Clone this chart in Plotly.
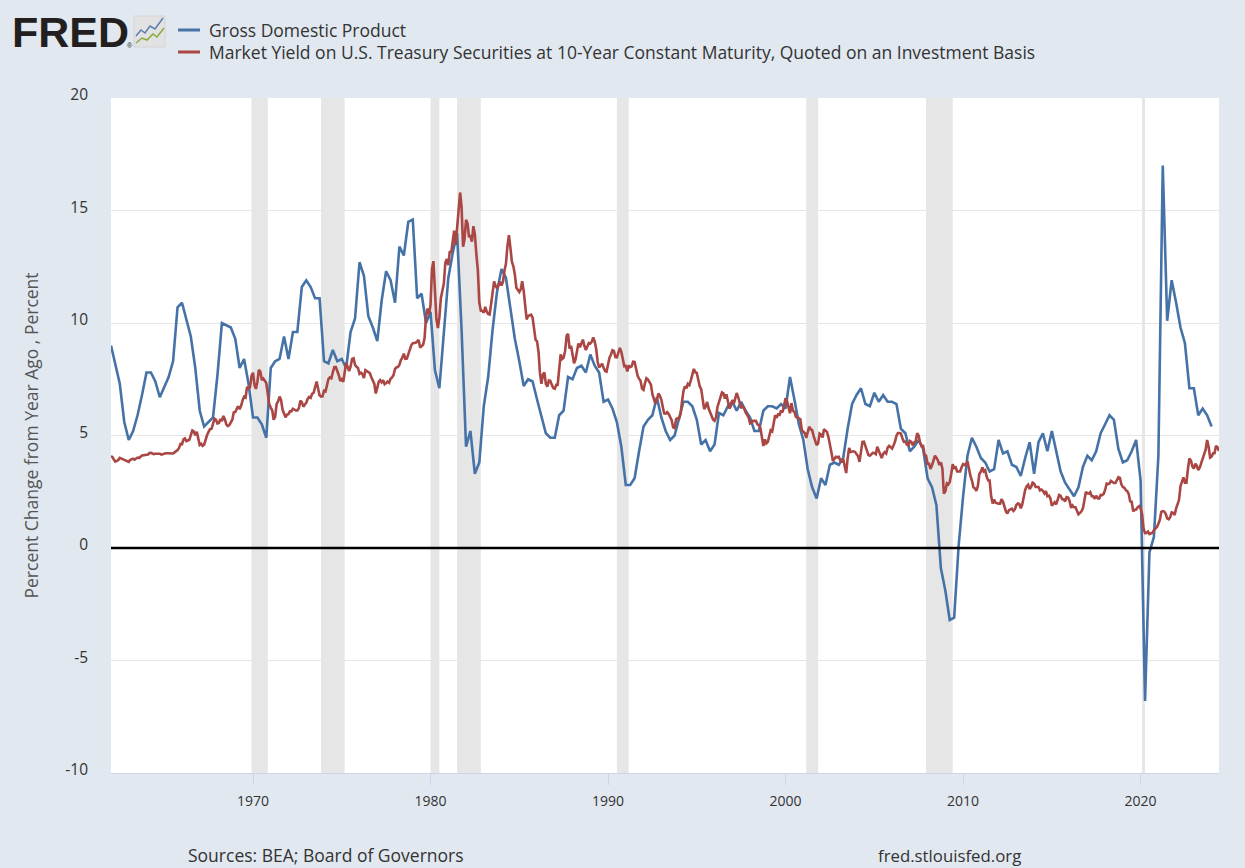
import plotly.graph_objects as go
import pandas as pd

# ---------------- DATA ----------------
gdp_start = "1962-01-01"
# Gross Domestic Product, percent change from year ago (quarterly)
gdp_yoy = [
    9.0, 8.1, 7.3, 5.6,      # 1962
    4.8, 5.2, 5.9, 6.8,      # 1963
    7.8, 7.8, 7.4, 6.7,      # 1964
    7.2, 7.6, 8.3, 10.7,     # 1965
    10.9, 10.2, 9.4, 8.0,    # 1966
    6.1, 5.4, 5.6, 5.8,      # 1967
    7.7, 10.0, 9.9, 9.8,     # 1968
    9.3, 8.0, 8.4, 7.3,      # 1969
    5.8, 5.8, 5.5, 4.9,      # 1970
    8.0, 8.3, 8.4, 9.4,      # 1971
    8.4, 9.6, 9.6, 11.6,     # 1972
    11.9, 11.6, 11.1, 11.1,  # 1973
    8.3, 8.2, 8.8, 8.3,      # 1974
    8.4, 8.0, 9.6, 10.2,     # 1975
    12.7, 12.1, 10.3, 9.8,   # 1976
    9.2, 11.0, 12.3, 11.9,   # 1977
    10.9, 13.4, 13.0, 14.5,  # 1978
    14.6, 11.1, 11.3, 10.0,  # 1979
    10.5, 7.9, 7.1, 9.6,     # 1980
    12.0, 13.1, 14.0, 9.7,   # 1981
    4.5, 5.2, 3.3, 3.8,      # 1982
    6.3, 7.6, 9.7, 11.4,     # 1983
    12.4, 12.0, 10.7, 9.3,   # 1984
    8.3, 7.2, 7.5, 7.4,      # 1985
    6.6, 5.9, 5.1, 4.9,      # 1986
    4.9, 5.9, 6.1, 7.6,      # 1987
    7.5, 8.0, 8.1, 7.8,      # 1988
    8.6, 8.1, 7.8, 6.5,      # 1989
    6.6, 6.2, 5.6, 4.5,      # 1990
    2.8, 2.8, 3.1, 4.3,      # 1991
    5.4, 5.7, 5.9, 6.7,      # 1992
    5.8, 5.2, 4.8, 5.0,      # 1993
    5.8, 6.5, 6.5, 6.3,      # 1994
    5.7, 4.6, 4.8, 4.3,      # 1995
    4.6, 6.0, 5.9, 6.3,      # 1996
    6.5, 6.1, 6.5, 6.1,      # 1997
    5.8, 5.2, 5.2, 6.1,      # 1998
    6.3, 6.3, 6.2, 6.4,      # 1999
    6.2, 7.6, 6.6, 5.5,      # 2000
    4.8, 3.5, 2.7, 2.2,      # 2001
    3.1, 2.8, 3.7, 3.8,      # 2002
    3.7, 4.0, 5.3, 6.4,      # 2003
    6.8, 7.1, 6.4, 6.3,      # 2004
    6.9, 6.5, 6.8, 6.5,      # 2005
    6.5, 6.4, 5.3, 5.1,      # 2006
    4.3, 4.5, 4.8, 4.4,      # 2007
    3.1, 2.7, 1.9, -0.9,     # 2008
    -1.9, -3.2, -3.1, 0.1,   # 2009
    2.3, 4.1, 4.9, 4.5,      # 2010
    4.0, 3.8, 3.4, 3.5,      # 2011
    4.8, 4.2, 4.3, 3.7,      # 2012
    3.6, 3.2, 4.0, 4.7,      # 2013
    3.3, 4.7, 5.1, 4.3,      # 2014
    5.2, 4.3, 3.4, 2.9,      # 2015
    2.6, 2.3, 2.7, 3.6,      # 2016
    4.1, 3.9, 4.3, 5.1,      # 2017
    5.5, 5.9, 5.7, 4.4,      # 2018
    3.8, 3.9, 4.3, 4.8,      # 2019
    3.0, -6.8, -0.2, 0.5,    # 2020
    4.1, 17.0, 10.1, 11.9,   # 2021
    10.9, 9.8, 9.1, 7.1,     # 2022
    7.1, 5.9, 6.2, 5.9,      # 2023
    5.4,                     # 2024
]

yield_start = "1962-01-01"
# Market Yield on U.S. Treasury Securities at 10-Year Constant Maturity (monthly, percent)
treasury_10y = [
    4.08, 4.04, 3.93, 3.84, 3.87, 3.91, 4.01, 3.98, 3.98, 3.93, 3.92, 3.86,   # 1962
    3.83, 3.92, 3.93, 3.97, 3.93, 3.99, 4.02, 4.00, 4.08, 4.11, 4.12, 4.13,   # 1963
    4.17, 4.15, 4.22, 4.23, 4.20, 4.17, 4.19, 4.19, 4.20, 4.19, 4.15, 4.18,   # 1964
    4.19, 4.21, 4.21, 4.20, 4.21, 4.21, 4.20, 4.25, 4.29, 4.35, 4.45, 4.62,   # 1965
    4.61, 4.83, 4.87, 4.75, 4.78, 4.81, 5.02, 5.22, 5.18, 5.01, 5.16, 4.84,   # 1966
    4.58, 4.63, 4.54, 4.59, 4.85, 5.02, 5.16, 5.28, 5.30, 5.48, 5.75, 5.70,   # 1967
    5.53, 5.56, 5.74, 5.64, 5.87, 5.72, 5.50, 5.42, 5.46, 5.58, 5.70, 6.03,   # 1968
    6.04, 6.19, 6.30, 6.17, 6.32, 6.57, 6.72, 6.69, 7.16, 7.10, 7.14, 7.65,   # 1969
    7.79, 7.24, 7.07, 7.39, 7.91, 7.84, 7.46, 7.53, 7.39, 7.33, 6.84, 6.39,   # 1970
    6.24, 6.11, 5.70, 5.83, 6.39, 6.52, 6.73, 6.58, 6.14, 5.93, 5.81, 5.93,   # 1971
    5.95, 6.08, 6.07, 6.19, 6.13, 6.11, 6.11, 6.21, 6.55, 6.48, 6.28, 6.36,   # 1972
    6.46, 6.64, 6.71, 6.67, 6.85, 6.90, 7.13, 7.40, 7.09, 6.79, 6.73, 6.74,   # 1973
    6.99, 6.96, 7.21, 7.51, 7.58, 7.54, 7.81, 8.04, 8.04, 7.90, 7.68, 7.43,   # 1974
    7.50, 7.39, 7.73, 8.23, 8.06, 7.86, 8.06, 8.40, 8.43, 8.14, 8.05, 8.00,   # 1975
    7.74, 7.79, 7.73, 7.56, 7.90, 7.86, 7.83, 7.77, 7.59, 7.41, 7.29, 6.87,   # 1976
    7.21, 7.39, 7.46, 7.37, 7.46, 7.28, 7.33, 7.40, 7.34, 7.52, 7.58, 7.69,   # 1977
    7.96, 8.03, 8.04, 8.15, 8.35, 8.46, 8.64, 8.41, 8.42, 8.64, 8.81, 9.01,   # 1978
    9.10, 9.10, 9.12, 9.18, 9.25, 8.91, 8.95, 9.03, 9.33, 10.30, 10.65, 10.39,  # 1979
    10.80, 12.41, 12.75, 11.47, 10.18, 9.78, 10.25, 11.10, 11.51, 11.75, 12.68, 12.84,  # 1980
    12.57, 13.19, 13.12, 13.68, 14.10, 13.47, 14.28, 14.94, 15.80, 15.15, 13.39, 13.72,  # 1981
    14.59, 14.43, 13.86, 13.87, 13.62, 14.30, 13.95, 13.06, 12.34, 10.91, 10.55, 10.54,  # 1982
    10.46, 10.72, 10.51, 10.40, 10.38, 10.85, 11.38, 11.85, 11.65, 11.54, 11.69, 11.83,  # 1983
    11.67, 11.84, 12.32, 12.63, 13.41, 13.90, 13.36, 12.72, 12.52, 12.16, 11.57, 11.50,  # 1984
    11.38, 11.51, 11.86, 11.43, 10.85, 10.16, 10.31, 10.33, 10.37, 10.24, 9.78, 9.26,   # 1985
    9.19, 8.70, 7.78, 7.30, 7.71, 7.80, 7.30, 7.17, 7.45, 7.43, 7.25, 7.11,   # 1986
    7.08, 7.25, 7.25, 8.02, 8.61, 8.40, 8.45, 8.76, 9.42, 9.52, 8.86, 8.99,   # 1987
    8.67, 8.21, 8.37, 8.72, 9.09, 8.92, 9.06, 9.26, 8.98, 8.80, 8.96, 9.11,   # 1988
    9.09, 9.17, 9.36, 9.18, 8.86, 8.28, 8.02, 8.11, 8.19, 8.01, 7.87, 7.84,   # 1989
    8.21, 8.47, 8.59, 8.79, 8.76, 8.48, 8.47, 8.75, 8.89, 8.72, 8.39, 8.08,   # 1990
    8.09, 7.85, 8.11, 8.04, 8.07, 8.28, 8.27, 7.90, 7.65, 7.53, 7.42, 7.09,   # 1991
    7.03, 7.34, 7.54, 7.48, 7.39, 7.26, 6.84, 6.59, 6.42, 6.59, 6.87, 6.77,   # 1992
    6.60, 6.26, 5.98, 5.97, 6.04, 5.96, 5.81, 5.68, 5.36, 5.33, 5.72, 5.77,   # 1993
    5.75, 5.97, 6.48, 6.97, 7.18, 7.10, 7.30, 7.24, 7.46, 7.74, 7.96, 7.81,   # 1994
    7.78, 7.47, 7.20, 7.06, 6.63, 6.17, 6.28, 6.49, 6.20, 6.04, 5.93, 5.71,   # 1995
    5.65, 5.81, 6.27, 6.51, 6.74, 6.91, 6.87, 6.64, 6.83, 6.53, 6.20, 6.30,   # 1996
    6.58, 6.42, 6.69, 6.89, 6.71, 6.49, 6.22, 6.30, 6.21, 6.03, 5.88, 5.81,   # 1997
    5.54, 5.57, 5.65, 5.64, 5.65, 5.50, 5.46, 5.34, 4.81, 4.53, 4.83, 4.65,   # 1998
    4.72, 5.00, 5.23, 5.18, 5.54, 5.90, 5.79, 5.94, 5.92, 6.11, 6.03, 6.28,   # 1999
    6.66, 6.52, 6.26, 5.99, 6.44, 6.10, 6.05, 5.83, 5.80, 5.74, 5.72, 5.24,   # 2000
    5.16, 5.10, 4.89, 5.14, 5.39, 5.28, 5.24, 4.97, 4.73, 4.57, 4.65, 5.09,   # 2001
    5.04, 4.91, 5.28, 5.21, 5.16, 4.93, 4.65, 4.26, 3.87, 3.94, 4.05, 4.03,   # 2002
    4.05, 3.90, 3.81, 3.96, 3.57, 3.33, 3.98, 4.45, 4.27, 4.29, 4.30, 4.27,   # 2003
    4.15, 4.08, 3.83, 4.35, 4.72, 4.73, 4.50, 4.28, 4.13, 4.10, 4.19, 4.23,   # 2004
    4.22, 4.17, 4.50, 4.34, 4.14, 4.00, 4.18, 4.26, 4.20, 4.46, 4.54, 4.47,   # 2005
    4.42, 4.57, 4.72, 4.99, 5.11, 5.11, 5.09, 4.88, 4.72, 4.73, 4.60, 4.56,   # 2006
    4.76, 4.72, 4.56, 4.69, 4.75, 5.10, 5.00, 4.67, 4.52, 4.53, 4.15, 4.10,   # 2007
    3.74, 3.74, 3.51, 3.68, 3.88, 4.10, 4.01, 3.89, 3.69, 3.81, 3.53, 2.42,   # 2008
    2.52, 2.87, 2.82, 2.93, 3.29, 3.72, 3.56, 3.59, 3.40, 3.39, 3.40, 3.59,   # 2009
    3.73, 3.69, 3.73, 3.85, 3.42, 3.20, 3.01, 2.70, 2.65, 2.54, 2.76, 3.29,   # 2010
    3.39, 3.58, 3.41, 3.46, 3.17, 3.00, 3.00, 2.30, 1.98, 2.15, 2.01, 1.98,   # 2011
    1.97, 1.97, 2.17, 2.05, 1.80, 1.62, 1.53, 1.68, 1.72, 1.75, 1.65, 1.72,   # 2012
    1.91, 1.98, 1.96, 1.76, 1.93, 2.30, 2.58, 2.74, 2.81, 2.62, 2.72, 2.90,   # 2013
    2.86, 2.71, 2.72, 2.71, 2.56, 2.60, 2.54, 2.42, 2.53, 2.30, 2.33, 2.21,   # 2014
    1.88, 1.98, 2.04, 1.94, 2.20, 2.36, 2.32, 2.17, 2.17, 2.07, 2.26, 2.24,   # 2015
    2.09, 1.78, 1.89, 1.81, 1.81, 1.64, 1.50, 1.56, 1.63, 1.76, 2.14, 2.49,   # 2016
    2.43, 2.42, 2.48, 2.30, 2.30, 2.19, 2.32, 2.21, 2.20, 2.36, 2.35, 2.40,   # 2017
    2.58, 2.86, 2.84, 2.87, 2.98, 2.91, 2.89, 2.89, 3.00, 3.15, 3.12, 2.83,   # 2018
    2.71, 2.68, 2.57, 2.53, 2.40, 2.07, 2.06, 1.63, 1.70, 1.71, 1.81, 1.86,   # 2019
    1.76, 1.50, 0.87, 0.66, 0.67, 0.73, 0.62, 0.65, 0.68, 0.79, 0.87, 0.93,   # 2020
    1.08, 1.26, 1.61, 1.64, 1.62, 1.52, 1.32, 1.28, 1.37, 1.58, 1.56, 1.47,   # 2021
    1.76, 1.93, 2.13, 2.75, 2.90, 3.14, 2.90, 2.90, 3.52, 3.98, 3.89, 3.62,   # 2022
    3.53, 3.75, 3.66, 3.46, 3.57, 3.75, 3.90, 4.17, 4.38, 4.80, 4.50, 4.02,   # 2023
    4.06, 4.21, 4.21, 4.54, 4.48, 4.31,                                       # 2024
]

recession_start = ["1969-12-01", "1973-11-01", "1980-01-01", "1981-07-01",
                   "1990-07-01", "2001-03-01", "2007-12-01", "2020-02-01"]
recession_end = ["1970-11-01", "1975-03-01", "1980-07-01", "1982-11-01",
                 "1991-03-01", "2001-11-01", "2009-06-01", "2020-04-01"]

y_tick_vals = [-10, -5, 0, 5, 10, 15, 20]
y_tick_text = ["-10", "-5", "0", "5", "10", "15", "20"]

series_names = ["Gross Domestic Product",
                "Market Yield on U.S. Treasury Securities at 10-Year Constant Maturity, Quoted on an Investment Basis"]

# ---------------- FIGURE ----------------
W, H = 1245, 868
L, R, T, B = 111, 26, 98, 95
PW, PH = W - L - R, H - T - B

def px(x):
    return (x - L) / PW

def py(y):
    return (H - B - y) / PH

BLUE = "#4572a7"
RED = "#aa4643"
BG = "#e1e8f0"
FONT = "Open Sans"

gdp_dates = pd.date_range(gdp_start, periods=len(gdp_yoy), freq="QS")
yld_dates = pd.date_range(yield_start, periods=len(treasury_10y), freq="MS")

fig = go.Figure()
fig.add_trace(go.Scatter(x=gdp_dates, y=gdp_yoy, mode="lines", name=series_names[0],
                         line=dict(color=BLUE, width=2.6), hoverinfo="skip"))
fig.add_trace(go.Scatter(x=yld_dates, y=treasury_10y, mode="lines", name=series_names[1],
                         line=dict(color=RED, width=2.6), hoverinfo="skip"))

shapes = []
for s, e in zip(recession_start, recession_end):
    shapes.append(dict(type="rect", xref="x", yref="paper", x0=s, x1=e, y0=0, y1=1,
                       fillcolor="#e6e6e6", line=dict(width=0), layer="between"))
# zero line
shapes.append(dict(type="line", xref="paper", yref="y", x0=0, x1=1, y0=0, y1=0,
                   line=dict(color="#000000", width=2.5), layer="above"))
# legend line samples
shapes.append(dict(type="line", xref="paper", yref="paper", x0=px(178), x1=px(200),
                   y0=py(30), y1=py(30), line=dict(color=BLUE, width=3)))
shapes.append(dict(type="line", xref="paper", yref="paper", x0=px(178), x1=px(200),
                   y0=py(52), y1=py(52), line=dict(color=RED, width=3)))
# FRED icon
shapes.append(dict(type="rect", xref="paper", yref="paper", x0=px(134), x1=px(165),
                   y0=py(47), y1=py(16), fillcolor="#e2e2e2", line=dict(color="#d4d4d4", width=1)))

def path(points):
    return "M " + " L ".join(f"{px(a):.5f},{py(b):.5f}" for a, b in points)

shapes.append(dict(type="path", xref="paper", yref="paper",
                   path=path([(136, 36), (141, 30), (145, 33), (150, 26), (155, 29), (163, 18)]),
                   line=dict(color="#5b7fb0", width=1.5)))
shapes.append(dict(type="path", xref="paper", yref="paper",
                   path=path([(136, 43), (142, 38), (147, 40), (153, 34), (157, 37), (164, 28)]),
                   line=dict(color="#8aaa3c", width=1.5)))

annotations = [
    dict(text="<b>FRED</b>", x=px(10), y=py(32), xref="paper", yref="paper",
         xanchor="left", yanchor="middle", showarrow=False,
         font=dict(family="Liberation Sans", size=43, color="#231f20")),
    dict(text="®", x=px(125), y=py(45), xref="paper", yref="paper",
         xanchor="left", yanchor="middle", showarrow=False,
         font=dict(family="Liberation Sans", size=7, color="#231f20")),
    dict(text=series_names[0], x=px(207), y=py(30), xref="paper", yref="paper",
         xanchor="left", yanchor="middle", showarrow=False,
         font=dict(family=FONT, size=17.5, color="#333333")),
    dict(text=series_names[1], x=px(207), y=py(52), xref="paper", yref="paper",
         xanchor="left", yanchor="middle", showarrow=False,
         font=dict(family=FONT, size=17.5, color="#333333")),
    dict(text="Percent Change from Year Ago , Percent", x=px(30), y=0.5,
         xref="paper", yref="paper", xanchor="center", yanchor="middle",
         textangle=-90, showarrow=False,
         font=dict(family=FONT, size=17.5, color="#555555")),
    dict(text="Sources: BEA; Board of Governors", x=px(186), y=py(855),
         xref="paper", yref="paper", xanchor="left", yanchor="middle", showarrow=False,
         font=dict(family=FONT, size=17.5, color="#333333")),
    dict(text="fred.stlouisfed.org", x=px(876), y=py(855),
         xref="paper", yref="paper", xanchor="left", yanchor="middle", showarrow=False,
         font=dict(family=FONT, size=16.8, color="#333333")),
]

fig.update_layout(
    width=W, height=H, autosize=False,
    margin=dict(l=L, r=R, t=T, b=B, pad=0),
    paper_bgcolor=BG, plot_bgcolor="#ffffff",
    showlegend=False,
    shapes=shapes, annotations=annotations,
    font=dict(family=FONT, color="#333333"),
    xaxis=dict(type="date", range=[yld_dates[0], yld_dates[-1]],
               tick0="1970-01-01", dtick="M120", tickformat="%Y",
               showgrid=False, zeroline=False,
               ticks="outside", ticklen=11, tickwidth=1, tickcolor="#ccd6eb",
               showline=True, linecolor="#ccd6eb", linewidth=1,
               tickfont=dict(family=FONT, size=14, color="#333333"),
               ticklabelstandoff=4),
    yaxis=dict(range=[-10, 20], tickvals=y_tick_vals, ticktext=y_tick_text,
               showgrid=True, gridcolor="#e6e6e6", gridwidth=1, zeroline=False,
               ticks="", showline=False,
               tickfont=dict(family=FONT, size=15.5, color="#333333"),
               ticklabelstandoff=22, ticklabelshift=-3),
)

fig.write_html("out.html")
